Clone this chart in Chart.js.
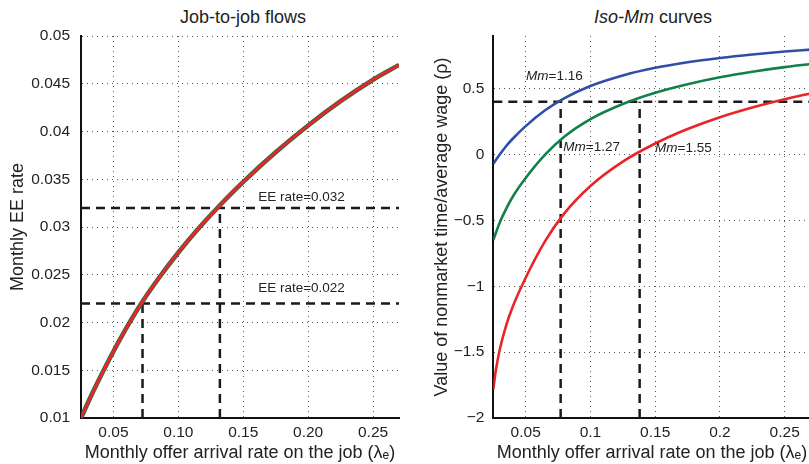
<!DOCTYPE html>
<html>
<head>
<meta charset="utf-8">
<script src="https://cdn.jsdelivr.net/npm/chart.js@4.4.1/dist/chart.umd.min.js"></script>
<style>
  html, body { margin: 0; padding: 0; background: #fff; overflow: hidden; }
  body { width: 809px; height: 464px; position: relative; font-family: "Liberation Sans", Arial, sans-serif; color: #222; }
  canvas { position: absolute; top: 0; }
  .title { position: absolute; top: 8px; font-size: 18px; line-height: 18px; transform: translateX(-50%); white-space: nowrap; }
</style>
</head>
<body>
<div class="title" style="left:243px">Job-to-job flows</div>
<div class="title" style="left:653px"><i>Iso-Mm</i> curves</div>
<canvas id="eeChart" width="405" height="464" style="left:0"></canvas>
<canvas id="isoChart" width="410" height="464" style="left:405px"></canvas>
<script>
// --- Left panel: job-to-job flows ---
const eeLambda = [0.025, 0.035, 0.047, 0.06, 0.0724, 0.085, 0.10, 0.115, 0.132, 0.15, 0.175, 0.20, 0.225, 0.25, 0.27];
const eeRate   = [0.0100, 0.01295, 0.01621, 0.01943, 0.0222, 0.02466, 0.02733, 0.02976, 0.03228, 0.03473, 0.03783, 0.04063, 0.04317, 0.04542, 0.04697];
const eeMarks = [0.022, 0.032];          // EE rates marked with dashed lines
const eeMarkLambda = [0.0724, 0.132];    // matching arrival rates
const eeXTicks = [0.05, 0.10, 0.15, 0.20, 0.25];
const eeXLabels = ["0.05", "0.10", "0.15", "0.20", "0.25"];
const eeYTicks = [0.01, 0.015, 0.02, 0.025, 0.03, 0.035, 0.04, 0.045, 0.05];
const eeYLabels = ["0.01", "0.015", "0.02", "0.025", "0.03", "0.035", "0.04", "0.045", "0.05"];

// --- Right panel: iso-Mm curves ---
const isoLambda = [0.025, 0.027, 0.03, 0.035, 0.04, 0.05, 0.065, 0.08, 0.10, 0.125, 0.15, 0.175, 0.20, 0.225, 0.25, 0.27];
const isoMm116 = [-0.07, -0.041, 0.0, 0.065, 0.12, 0.216, 0.336, 0.429, 0.521, 0.601, 0.6585, 0.701, 0.7335, 0.7598, 0.7818, 0.7968];
const isoMm127 = [-0.65, -0.594, -0.515, -0.41, -0.32, -0.178, -0.001, 0.137, 0.269, 0.384, 0.469, 0.534, 0.5865, 0.629, 0.664, 0.687];
const isoMm155 = [-1.78, -1.636, -1.48, -1.295, -1.155, -0.935, -0.6575, -0.4445, -0.2385, -0.0535, 0.084, 0.194, 0.284, 0.358, 0.420, 0.464];
const mmValues = [1.16, 1.27, 1.55];
const rhoMark = 0.4;
const rhoMarkLambda = [0.077, 0.138];
const isoXTicks = [0.05, 0.1, 0.15, 0.2, 0.25];
const isoXLabels = ["0.05", "0.1", "0.15", "0.2", "0.25"];
const isoYTicks = [-2, -1.5, -1, -0.5, 0, 0.5];
const isoYLabels = ["\u22122", "\u22121.5", "\u22121", "\u22120.5", "0", "0.5"];

const FONT = '"Liberation Sans", Arial, sans-serif';
const xMin = 0.025, xMax = 0.27;

function pts(xs, ys) {
  return xs.map((x, i) => ({ x, y: ys[i] }));
}

function curve(data, color, width, order) {
  return { data, borderColor: color, borderWidth: width, pointRadius: 0, fill: false,
           cubicInterpolationMode: "monotone", order };
}

function dashed(data) {
  return { data, borderColor: "#1a1a1a", borderWidth: 2.5, borderDash: [9, 6], pointRadius: 0,
           fill: false, order: 5 };
}

// draws small annotation texts, parts can be italic
function labelPlugin(items) {
  return {
    id: "textLabels",
    afterDatasetsDraw(chart) {
      const { ctx, scales: { x, y } } = chart;
      ctx.save();
      ctx.fillStyle = "#222";
      ctx.textBaseline = "alphabetic";
      items.forEach(item => {
        let px = x.getPixelForValue(item.x);
        const py = y.getPixelForValue(item.y);
        item.parts.forEach(([str, italic]) => {
          ctx.font = (italic ? "italic " : "") + "13.5px " + FONT;
          ctx.fillText(str, px, py);
          px += ctx.measureText(str).width;
        });
      });
      ctx.restore();
    }
  };
}

function axis(ticks, labels, min, max, opts) {
  return {
    type: "linear",
    min, max,
    afterBuildTicks: s => { s.ticks = ticks.map(v => ({ value: v })); },
    afterFit: opts.fit,
    ticks: {
      autoSkip: false, maxRotation: 0, padding: opts.pad,
      color: "#222", font: { family: FONT, size: 15.5 },
      callback: (v, i) => labels[i]
    },
    grid: { color: "#555", lineWidth: 1, drawTicks: false },
    border: { color: "#111", width: 2, dash: [1, 4] },
    title: {
      display: true, text: opts.title, color: "#222",
      font: { family: FONT, size: 18 }, padding: opts.titlePad
    }
  };
}

function makeChart(id, datasets, scales, padding, labels) {
  return new Chart(document.getElementById(id), {
    type: "line",
    data: { datasets },
    options: {
      responsive: false,
      animation: false,
      layout: { padding },
      plugins: { legend: { display: false }, tooltip: { enabled: false } },
      scales
    },
    plugins: [labelPlugin(labels)]
  });
}

// --- Left chart ---
const eeLeftData = [
  curve(pts(eeLambda, eeRate), "#e8262a", 2.8, 0),
  curve(pts(eeLambda, eeRate), "#2d6b45", 4.6, 1)
];
eeMarks.forEach((v, i) => {
  eeLeftData.push(dashed([{ x: xMin, y: v }, { x: xMax, y: v }]));
  eeLeftData.push(dashed([{ x: eeMarkLambda[i], y: 0.01 }, { x: eeMarkLambda[i], y: v }]));
});

makeChart("eeChart", eeLeftData, {
  x: axis(eeXTicks, eeXLabels, xMin, xMax, {
    pad: 5, title: "Monthly offer arrival rate on the job (\u03bb\u2091)",
    titlePad: { top: 0, bottom: 0 }, fit: s => { s.height = 46; }
  }),
  y: axis(eeYTicks, eeYLabels, 0.01, 0.05, {
    pad: 11, title: "Monthly EE rate",
    titlePad: { top: 7, bottom: 7 }, fit: s => { s.width = 81; }
  })
}, { left: 0, right: 6, top: 36, bottom: 0 }, [
  { x: 0.1615, y: 0.03272, parts: [["EE rate=" + eeMarks[1], false]] },
  { x: 0.1615, y: 0.02316, parts: [["EE rate=" + eeMarks[0], false]] }
]);

// --- Right chart ---
const isoData = [
  curve(pts(isoLambda, isoMm116), "#2f4fa6", 2.6, 0),
  curve(pts(isoLambda, isoMm127), "#13804a", 2.6, 0),
  curve(pts(isoLambda, isoMm155), "#e8262a", 2.6, 0),
  dashed([{ x: xMin, y: rhoMark }, { x: xMax, y: rhoMark }])
];
rhoMarkLambda.forEach(l => isoData.push(dashed([{ x: l, y: -2 }, { x: l, y: rhoMark }])));

makeChart("isoChart", isoData, {
  x: axis(isoXTicks, isoXLabels, xMin, xMax, {
    pad: 5, title: "Monthly offer arrival rate on the job (\u03bb\u2091)",
    titlePad: { top: 0, bottom: 0 }, fit: s => { s.height = 46; }
  }),
  y: axis(isoYTicks, isoYLabels, -2, 0.9, {
    pad: 9, title: "Value of nonmarket time/average wage (\u03c1)",
    titlePad: { top: 26, bottom: 26 }, fit: s => { s.width = 88.3; }
  })
}, { left: 0, right: 4.4, top: 36, bottom: 0 }, [
  { x: 0.0503, y: 0.569, parts: [["Mm", true], ["=" + mmValues[0].toFixed(2), false]] },
  { x: 0.0791, y: 0.025, parts: [["Mm", true], ["=" + mmValues[1].toFixed(2), false]] },
  { x: 0.1499, y: 0.0205, parts: [["Mm", true], ["=" + mmValues[2].toFixed(2), false]] }
]);
</script>
</body>
</html>
